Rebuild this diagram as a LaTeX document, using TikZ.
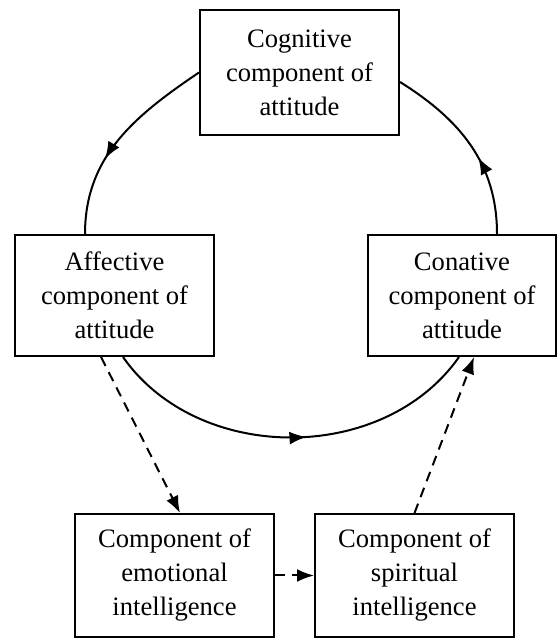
\documentclass[tikz,border=0pt]{standalone}
\usepackage{fontspec}
\setmainfont{Liberation Serif}
\usetikzlibrary{arrows.meta,decorations.markings}

\begin{document}
\begin{tikzpicture}[
    x=1pt, y=1pt,
    line width=2pt,
    box/.style={draw, rectangle, inner sep=0pt, align=center,
      minimum width=199pt, minimum height=123pt,
      font=\fontsize{26.6}{34}\selectfont},
    tip/.style={-{Latex[length=17pt,width=13pt]}},
    dashline/.style={dash pattern=on 10pt off 7pt},
    midarrow/.style={postaction={decorate},
      decoration={markings,
        mark=at position #1 with {\arrow{Latex[length=17pt,width=13pt]}}}}
  ]
  \useasboundingbox (0,0) rectangle (558,639);
  \node (cog) [box, minimum height=125pt] at (299.5,566.5) {Cognitive\\component of\\attitude};
  \node (aff) [box, minimum height=121pt] at (114.5,343.5) {Affective\\component of\\attitude};
  \node (con) [box, minimum width=188pt, minimum height=121pt] at (462,343.5) {Conative\\component of\\attitude};
  \node (emo) [box] at (174.5,63.5) {Component of\\emotional\\intelligence};
  \node (spi) [box] at (414.5,63.5) {Component of\\spiritual\\intelligence};
  % the attitude cycle
  \draw [midarrow=0.62] (cog.west) to[out=214,in=90] ([xshift=-29.5pt]aff.north);
  \draw [midarrow=0.54] ([xshift=8.5pt]aff.south) to[out=-55,in=235] ([xshift=-3pt]con.south);
  \draw [midarrow=0.42] ([xshift=35pt]con.north) to[out=90,in=-32] ([yshift=-9.5pt]cog.east);
  % intelligence links
  \draw [dashline, tip] ([xshift=-13.5pt]aff.south) -- ([xshift=5.5pt]emo.north);
  \draw [dashline, tip] (emo.east) -- (spi.west);
  \draw [dashline, tip] (spi.north) -- ([xshift=12pt]con.south);
\end{tikzpicture}
\end{document}
